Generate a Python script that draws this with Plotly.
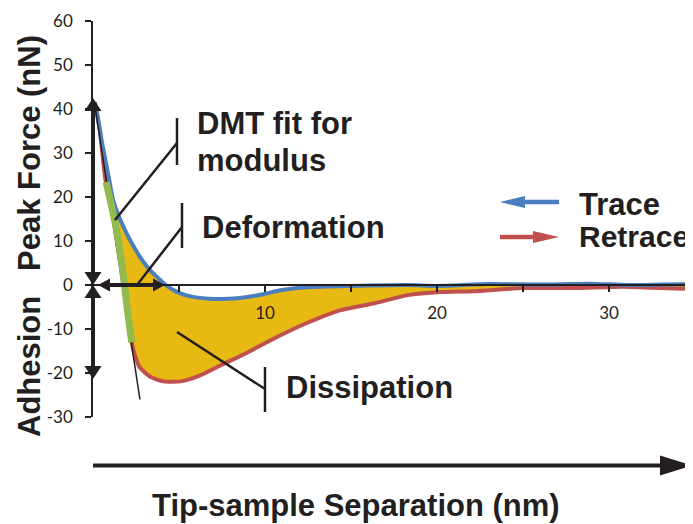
import plotly.graph_objects as go

# ---------------- data ----------------
trace_x = [0.1, 0.21, 0.5, 0.87, 1.17, 1.5, 1.96, 2.4, 2.73, 3.2, 3.7, 4.3, 5.0, 5.8,
           6.8, 8.4, 9.9, 10.9, 12.4, 15.0, 18.3, 20.0, 23.0, 26.0, 28.9, 31.0, 33.0, 34.88]
trace_y = [41.5, 39.7, 32.9, 25.4, 19.3, 15.6, 11.7, 8.5, 6.4, 3.9, 1.9, -0.2, -1.8, -2.7,
           -3.1, -3.0, -2.1, -1.2, -0.5, -0.2, 0.0, -0.2, 0.2, 0.1, 0.3, 0.0, 0.1, 0.2]

retrace_x = [0.1, 0.4, 0.72, 1.0, 1.4, 1.7, 2.0, 2.25, 2.4, 2.7, 3.3, 4.1, 5.1, 6.2,
             7.4, 8.9, 10.3, 12.4, 14.4, 16.3, 18.3, 20.2, 22.1, 25.0, 27.9, 30.8, 32.5, 34.88]
retrace_y = [41.5, 35.0, 24.0, 19.3, 11.8, 4.1, -5.7, -13.0, -15.5, -18.6, -20.8, -21.9, -21.9, -20.6,
             -18.3, -15.5, -12.6, -8.7, -5.7, -4.2, -2.3, -1.6, -1.4, -0.7, -0.7, -0.4, -0.6, -0.9]

fit_x = [0.76, 1.0, 1.4, 1.7, 2.0, 2.25]
fit_y = [23.4, 19.3, 11.8, 4.1, -5.7, -13.0]

dmt_line_x = [0.08, 2.73]
dmt_line_y = [41.5, -26.0]

x_tick_vals = [5, 10, 15, 20, 25, 30]
x_tick_text = ["", "10", "", "20", "", "30"]
y_tick_vals = [-30, -20, -10, 0, 10, 20, 30, 40, 50, 60]
y_tick_text = ["-30", "-20", "-10", "0", "10", "20", "30", "40", "50", "60"]

# ---------------- styling ----------------
OFF = 8                      # default page margin of the html body
W, H = 693 - OFF, 524 - OFF
PLOT_L, PLOT_T, PW, PH = 93, 21, 600, 396   # plot area in page pixels
ML, MT = PLOT_L - OFF, PLOT_T - OFF
MR = W - ML - PW
MB = H - MT - PH
INK = "#231F20"
BLUE = "#4A7EBF"
RED = "#C0504D"
GREEN = "#93BA4F"
GOLD = "#E8B912"
BOLD = "Liberation Sans, Arial, sans-serif"
TICKF = "Lato, Open Sans, sans-serif"


def px(xp, yp):
    """page pixel position -> paper coordinates"""
    return (xp - PLOT_L) / PW, (PLOT_T + PH - yp) / PH


def path(points):
    pts = [px(a, b) for a, b in points]
    return "M" + " L".join(f"{a:.5f},{b:.5f}" for a, b in pts) + " Z"


fig = go.Figure()

# filled dissipation area (between trace and retrace)
fig.add_trace(go.Scatter(x=trace_x, y=trace_y, mode="lines",
                         line=dict(width=0, shape="spline", smoothing=0.6),
                         hoverinfo="skip", showlegend=False))
fig.add_trace(go.Scatter(x=retrace_x, y=retrace_y, mode="lines", fill="tonexty",
                         fillcolor=GOLD, line=dict(width=0, shape="spline", smoothing=0.6),
                         hoverinfo="skip", showlegend=False))
# curves
fig.add_trace(go.Scatter(x=retrace_x, y=retrace_y, mode="lines",
                         line=dict(color=RED, width=4, shape="spline", smoothing=0.6),
                         showlegend=False))
fig.add_trace(go.Scatter(x=trace_x, y=trace_y, mode="lines",
                         line=dict(color=BLUE, width=4, shape="spline", smoothing=0.6),
                         showlegend=False))
fig.add_trace(go.Scatter(x=dmt_line_x, y=dmt_line_y, mode="lines",
                         line=dict(color=INK, width=1.5), showlegend=False,
                         cliponaxis=False))
fig.add_trace(go.Scatter(x=fit_x, y=fit_y, mode="lines",
                         line=dict(color=GREEN, width=7, shape="spline", smoothing=0.6),
                         showlegend=False))

shapes = []


def seg(x0, y0, x1, y1, w, color=INK):
    a, b = px(x0, y0)
    c, d = px(x1, y1)
    shapes.append(dict(type="line", xref="paper", yref="paper", x0=a, y0=b, x1=c, y1=d,
                       line=dict(color=color, width=w), layer="above"))


def head(tipx, tipy, direction, length, half, color=INK):
    if direction == "up":
        pts = [(tipx, tipy), (tipx - half, tipy + length), (tipx + half, tipy + length)]
    elif direction == "down":
        pts = [(tipx, tipy), (tipx - half, tipy - length), (tipx + half, tipy - length)]
    elif direction == "left":
        pts = [(tipx, tipy), (tipx + length, tipy - half), (tipx + length, tipy + half)]
    else:
        pts = [(tipx, tipy), (tipx - length, tipy - half), (tipx - length, tipy + half)]
    shapes.append(dict(type="path", xref="paper", yref="paper", path=path(pts),
                       fillcolor=color, line=dict(width=0), layer="above"))


# vertical peak-force arrow and adhesion arrow
seg(93, 273, 93, 109, 4)
head(93, 98, "up", 13, 8.5)
head(93, 285, "down", 13, 8.5)
seg(93, 297, 93, 367, 4)
head(93, 285, "up", 13, 8.5)
head(93, 379, "down", 13, 8.5)
# deformation arrow
seg(108, 285, 154, 285, 4)
head(98, 285, "left", 12, 6.5)
head(165, 285, "right", 12, 6.5)
# bottom separation arrow
seg(93, 465.5, 664, 465.5, 4)
head(692, 465.5, "right", 32, 10)
# legend arrows
seg(559, 202, 522, 202, 4.5, BLUE)
head(500, 202, "left", 25, 6, BLUE)
seg(500, 237, 536, 237, 4.5, RED)
head(559, 237, "right", 26, 6, RED)
# leader lines
seg(115, 220, 177, 143, 2.5)
seg(177, 118, 177, 165, 2.5)
seg(137, 285, 182, 227, 2.5)
seg(182, 203, 182, 248, 2.5)
seg(177, 332, 265, 389, 2.5)
seg(265, 367, 265, 412, 2.5)

annotations = []


def label(text, xp, yp, size=31, angle=0, xanchor="left"):
    a, b = px(xp, yp)
    annotations.append(dict(text=f"<b>{text}</b>", x=a, y=b, xref="paper", yref="paper",
                            xanchor=xanchor, yanchor="middle", showarrow=False,
                            textangle=angle, font=dict(family=BOLD, size=size, color=INK)))


label("DMT fit for", 195, 124)
label("modulus", 195, 160)
label("Deformation", 200, 227)
label("Dissipation", 284, 387)
label("Trace", 577, 204)
label("Retrace", 577, 237, size=30)
label("Tip-sample Separation (nm)", 150, 505)
label("Peak Force (nN)", 29, 153, angle=-90, xanchor="center")
label("Adhesion", 29, 367, angle=-90, xanchor="center")

fig.update_layout(
    width=W, height=H,
    margin=dict(l=ML, r=MR, t=MT, b=MB, pad=0),
    paper_bgcolor="white", plot_bgcolor="white",
    showlegend=False,
    shapes=shapes, annotations=annotations,
    xaxis=dict(range=[0, 34.88], anchor="free", position=30 / 90,
               showline=True, linecolor=INK, linewidth=1.5,
               ticks="outside", ticklen=6, tickwidth=1.5, tickcolor=INK,
               tickvals=x_tick_vals, ticktext=x_tick_text,
               tickfont=dict(family=TICKF, size=17, color=INK),
               ticklabelstandoff=7,
               showgrid=False, zeroline=False, fixedrange=True),
    yaxis=dict(range=[-30, 60], showline=True, linecolor=INK, linewidth=1.5,
               ticks="outside", ticklen=6, tickwidth=1.5, tickcolor=INK,
               tickvals=y_tick_vals, ticktext=y_tick_text,
               tickfont=dict(family=TICKF, size=17, color=INK),
               ticklabelstandoff=9,
               showgrid=False, zeroline=False, fixedrange=True),
)

fig.write_html("out.html", config={"displayModeBar": False})
